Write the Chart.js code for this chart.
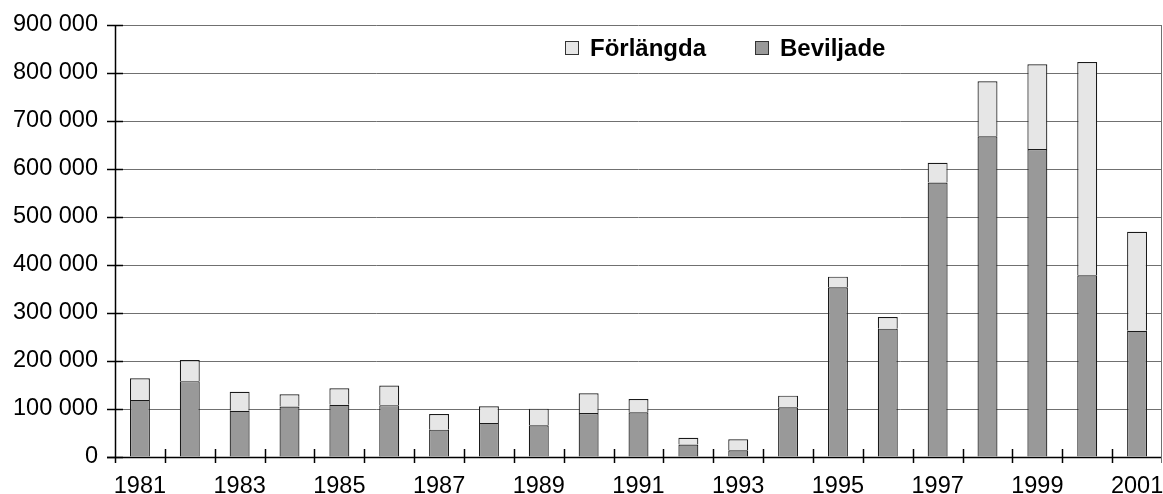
<!DOCTYPE html>
<html lang="sv">
<head>
  <meta charset="UTF-8">
  <title>Beviljade och förlängda</title>
  <script src="https://cdn.jsdelivr.net/npm/chart.js"></script>
  <style>
    body{margin:0;padding:0;background:#fff}
    #wrap{width:1163px;height:494px}
  </style>
</head>
<body>
<div id="wrap"><canvas id="chart"></canvas></div>
<script>
const years = ['1981','1982','1983','1984','1985','1986','1987','1988','1989','1990','1991',
               '1992','1993','1994','1995','1996','1997','1998','1999','2000','2001'];
const beviljade = [119000,158000,96500,105000,109000,108000,57000,71000,66000,91700,93000,
                   26000,14000,103500,353500,267400,572000,668000,641700,378500,263000];
const totalt    = [164000,202000,136000,130500,143000,149000,89600,105600,100700,132700,120800,
                   40000,37000,127800,375700,291700,613000,782700,818000,823000,469400];
const forlangda = totalt.map((t,i)=>t-beviljade[i]);
const yTicks = [0,100000,200000,300000,400000,500000,600000,700000,800000,900000];

const FONT = "'Liberation Sans', Arial, Helvetica, sans-serif";
const fmt = v => String(v).replace(/\B(?=(\d{3})+(?!\d))/g,' ');

/* cross-over tick marks + frame like the original */
const crossTicks = {
  id:'crossTicks',
  afterDraw(chart){
    const {ctx, scales:{x,y}} = chart;
    ctx.save();
    ctx.strokeStyle = '#000'; ctx.lineWidth = 1.5;
    const n = years.length, w = (x.right-x.left)/n;
    for(let i=1;i<n;i++){
      const px = Math.round(x.left + i*w)+0.5;
      ctx.beginPath(); ctx.moveTo(px, y.bottom-8); ctx.lineTo(px, y.bottom+6); ctx.stroke();
    }
    yTicks.forEach(v=>{
      const py = Math.round(y.getPixelForValue(v))+0.5;
      ctx.beginPath(); ctx.moveTo(x.left-8, py); ctx.lineTo(x.left+8, py); ctx.stroke();
    });
    ctx.beginPath(); ctx.moveTo(x.left+0.5, y.top); ctx.lineTo(x.left+0.5, y.bottom+6); ctx.stroke();
    ctx.beginPath(); ctx.moveTo(x.left-8, y.bottom+0.5); ctx.lineTo(x.right, y.bottom+0.5); ctx.stroke();
    // right frame
    ctx.strokeStyle = '#707070'; ctx.lineWidth = 1;
    ctx.beginPath(); ctx.moveTo(x.right-0.5, y.top); ctx.lineTo(x.right-0.5, y.bottom+6); ctx.stroke();
    ctx.restore();
  }
};

/* legend inside the plot area */
const innerLegend = {
  id:'innerLegend',
  afterDraw(chart){
    const ctx = chart.ctx;
    const items = chart.data.datasets.slice().reverse();
    ctx.save();
    ctx.font = "bold 24px " + FONT;
    ctx.textBaseline = 'middle';
    let xx = 565; const yy = 48;
    items.forEach(ds=>{
      ctx.fillStyle = ds.backgroundColor;
      ctx.fillRect(xx, yy-7, 14, 14);
      ctx.strokeStyle = '#333'; ctx.lineWidth = 1;
      ctx.strokeRect(xx+0.5, yy-6.5, 13, 13);
      ctx.fillStyle = '#000';
      ctx.fillText(ds.label, xx+25, yy+1);
      xx += 25 + ctx.measureText(ds.label).width + 49;
    });
    ctx.restore();
  }
};

new Chart(document.getElementById('chart'),{
  type:'bar',
  data:{
    labels: years,
    datasets:[
      {label:'Beviljade', data:beviljade, backgroundColor:'#999999', borderColor:'#1a1a1a', borderWidth:1.2,
       barPercentage:0.4, categoryPercentage:1},
      {label:'Förlängda', data:forlangda, backgroundColor:'#e6e6e6', borderColor:'#1a1a1a', borderWidth:1.2,
       barPercentage:0.4, categoryPercentage:1}
    ]
  },
  options:{
    responsive:true, maintainAspectRatio:false, animation:false,
    layout:{padding:{top:25,right:1,left:0,bottom:0}},
    plugins:{legend:{display:false}, tooltip:{enabled:false}},
    scales:{
      x:{
        stacked:true,
        grid:{display:false, drawTicks:false},
        border:{display:false},
        ticks:{autoSkip:false, maxRotation:0, padding:15, color:'#000',
               font:{family:FONT, size:23.5},
               callback:(v,i)=> i%2===0 ? years[i] : ''},
        afterFit:s=>{s.height = 37; s.paddingLeft = 0; s.paddingRight = 0;}
      },
      y:{
        stacked:true, min:0, max:900000,
        afterBuildTicks:s=>{s.ticks = yTicks.map(v=>({value:v}));},
        grid:{color:'#707070', lineWidth:1, drawTicks:false},
        border:{display:false},
        ticks:{padding:17, color:'#000', font:{family:FONT, size:23.5}, callback:v=>fmt(v)},
        afterFit:s=>{s.width = 115; s.paddingTop = 0; s.paddingBottom = 0;}
      }
    }
  },
  plugins:[crossTicks, innerLegend]
});
</script>
</body>
</html>
